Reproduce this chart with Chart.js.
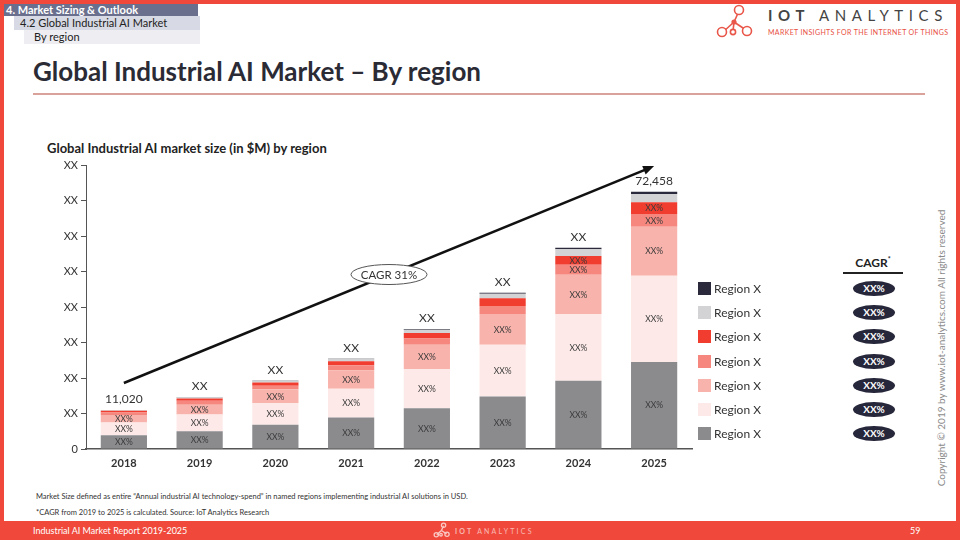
<!DOCTYPE html>
<html>
<head>
<meta charset="utf-8">
<script src="https://cdn.jsdelivr.net/npm/chart.js@4.4.1/dist/chart.umd.min.js"></script>
<style>
  html, body { margin: 0; padding: 0; }
  body { width: 960px; height: 540px; position: relative; overflow: hidden; background: #fff; font-family: Lato, "Open Sans", sans-serif; color: #333; }
  .abs { position: absolute; }
  .frame { left: 0; top: 0; width: 952px; height: 517px; border: 4px solid #f0483a; border-bottom: none; }
  .band { position: absolute; font-size: 11px; line-height: 14px; white-space: nowrap; }
  .b1 { left: 4px; top: 4px; width: 192px; height: 12px; line-height: 12px; background: #6a6f8d; color: #fff; font-weight: bold; padding-left: 2px; }
  .b2 { left: 14px; top: 16px; width: 180px; height: 14px; background: #d7d9e4; color: #222; padding-left: 6px; }
  .b3 { left: 24px; top: 30px; width: 166px; height: 14px; background: #eeeef2; color: #222; padding-left: 10px; }
  .title { left: 33px; top: 55px; font-size: 26px; font-weight: bold; color: #2b2b36; white-space: nowrap; }
  .rule { left: 33px; top: 93px; width: 892px; height: 1.5px; background: #d9a39c; }
  .ctitle { left: 47px; top: 140px; font-size: 13px; font-weight: bold; color: #222; white-space: nowrap; }
  #legend .item { position: absolute; left: 698px; font-size: 12px; color: #333; white-space: nowrap; }
  #legend .sw { position: absolute; left: 0; top: 0; width: 13px; height: 13px; }
  #legend .lb { position: absolute; left: 16px; top: -1px; }
  .cagrh { left: 843px; top: 255px; width: 60px; text-align: center; font-size: 12px; font-weight: bold; color: #222; border-bottom: 2px solid #222; padding-bottom: 2px; }
  .pill { position: absolute; left: 853px; width: 42px; height: 15px; border-radius: 50%; background: #27273b; color: #fff; font-size: 10px; font-weight: bold; text-align: center; line-height: 15px; }
  .copy { left: 941px; top: 348px; font-size: 10px; color: #8a8a8a; white-space: nowrap; transform: translate(-50%, -50%) rotate(-90deg); }
  .note { left: 36px; font-size: 7.5px; color: #333; white-space: nowrap; }
  .footer { left: 0; top: 521px; width: 960px; height: 19px; background: #f0483a; }
  .ftxt { top: 525px; font-size: 9px; color: #fff; white-space: nowrap; }
</style>
</head>
<body>
<div class="abs frame"></div>
<div class="band b1">4. Market Sizing &amp; Outlook</div>
<div class="band b2">4.2 Global Industrial AI Market</div>
<div class="band b3">By region</div>

<svg class="abs" style="left:712px;top:3px" width="42" height="36" viewBox="0 0 42 36">
  <g fill="none" stroke="#e9574a" stroke-width="1.6">
    <line x1="22" y1="19" x2="27" y2="8"/>
    <line x1="22" y1="19" x2="11" y2="29"/>
    <line x1="22" y1="19" x2="21" y2="28"/>
    <line x1="22" y1="19" x2="34" y2="27"/>
    <circle cx="27" cy="7" r="4.5" fill="#fff"/>
    <circle cx="22" cy="19" r="1.8" fill="#e9574a"/>
    <circle cx="10" cy="29" r="4.5" fill="#fff"/>
    <circle cx="21" cy="29" r="2.6" fill="#fff"/>
    <circle cx="35" cy="28" r="4.5" fill="#fff"/>
  </g>
</svg>
<div class="abs" style="left:768px;top:6px;font-size:15px;letter-spacing:5.6px;color:#444;white-space:nowrap"><b>IOT</b>&nbsp;ANALYTICS</div>
<div class="abs" style="left:768px;top:28px;font-size:7px;letter-spacing:0.35px;color:#e8503f;white-space:nowrap">MARKET INSIGHTS FOR THE INTERNET OF THINGS</div>

<div class="abs title">Global Industrial AI Market – By region</div>
<div class="abs rule"></div>
<div class="abs ctitle">Global Industrial AI market size (in $M) by region</div>

<canvas id="chart" class="abs" style="left:40px;top:150px" width="660" height="325"></canvas>

<div id="legend"></div>
<div class="abs cagrh">CAGR<sup style="font-size:7px">*</sup></div>
<div id="cagr"></div>

<div class="abs copy">Copyright © 2019 by www.iot-analytics.com All rights reserved</div>

<div class="abs note" style="top:492px">Market Size defined as entire “Annual industrial AI technology-spend” in named regions implementing industrial AI solutions in USD.</div>
<div class="abs note" style="top:508px">*CAGR from 2019 to 2025 is calculated.  Source: IoT Analytics Research</div>

<div class="abs footer"></div>
<div class="abs ftxt" style="left:33px">Industrial AI Market Report 2019-2025</div>
<svg class="abs" style="left:432px;top:522px;opacity:0.7" width="18" height="16" viewBox="0 0 42 36">
  <g fill="none" stroke="#fff" stroke-width="3">
    <line x1="22" y1="19" x2="27" y2="8"/>
    <line x1="22" y1="19" x2="11" y2="29"/>
    <line x1="22" y1="19" x2="34" y2="27"/>
    <circle cx="27" cy="7" r="5"/>
    <circle cx="10" cy="29" r="5"/>
    <circle cx="21" cy="29" r="3"/>
    <circle cx="35" cy="28" r="5"/>
  </g>
</svg>
<div class="abs ftxt" style="left:455px;opacity:0.6;letter-spacing:2.2px;font-size:7px;top:527px"><b>IOT</b> ANALYTICS</div>
<div class="abs ftxt" style="left:910px">59</div>

<script>
  // categories and values ($M)
  const years = ["2018", "2019", "2020", "2021", "2022", "2023", "2024", "2025"];
  const greyVals      = [3900, 5000, 6800, 8900, 11500, 14800, 19200, 24500];
  const paleVals      = [3560, 4700, 6100, 8100, 11000, 14600, 18800, 24300];
  const pinkVals      = [2100, 2800, 3900, 5200, 6900, 8600, 11100, 13800];
  const salmonVals    = [750, 1100, 1000, 1400, 1700, 2300, 2800, 3600];
  const redVals       = [450, 650, 900, 1100, 1600, 2200, 2500, 3300];
  const lightGreyVals = [200, 300, 400, 600, 900, 1200, 1900, 2300];
  const navyVals      = [60, 80, 100, 150, 200, 300, 400, 658];

  const totalLabels = ["11,020", "XX", "XX", "XX", "XX", "XX", "XX", "72,458"];
  const yTickLabels = ["0", "XX", "XX", "XX", "XX", "XX", "XX", "XX", "XX"];
  const regionNames = ["Region X", "Region X", "Region X", "Region X", "Region X", "Region X", "Region X"];
  const cagrValues = ["XX%", "XX%", "XX%", "XX%", "XX%", "XX%", "XX%"];
  const segmentLabel = "XX%";
  const cagrText = "CAGR 31%";
  // trend arrow, in data units (category index, $M)
  const arrowFrom = [0, 18600];
  const arrowTo = [7, 79700];

  // bottom -> top of each stack
  const series = [greyVals, paleVals, pinkVals, salmonVals, redVals, lightGreyVals, navyVals];
  const colors = ["#8b8b8e", "#fdeae8", "#f8b3ac", "#f5877e", "#f03d30", "#d3d3d5", "#2a2a3c"];

  const overlay = {
    id: "overlay",
    afterDatasetsDraw(chart) {
      const ctx = chart.ctx;
      const xs = chart.scales.x, ys = chart.scales.y;
      ctx.save();
      ctx.textAlign = "center";
      ctx.textBaseline = "middle";

      // XX% inside the segments
      ctx.font = "8.5px Lato, sans-serif";
      ctx.fillStyle = "#3a3a3a";
      chart.data.datasets.forEach(function(ds, di) {
        if (di > 4) return;
        chart.getDatasetMeta(di).data.forEach(function(bar) {
          const h = Math.abs(bar.base - bar.y);
          if (di >= 3 && h < 8.5) return;
          ctx.fillText(segmentLabel, bar.x, (bar.y + bar.base) / 2 + 0.5);
        });
      });

      // totals above the bars
      ctx.font = "12px Lato, sans-serif";
      ctx.fillStyle = "#333";
      years.forEach(function(_, i) {
        const total = series.reduce(function(s, arr) { return s + arr[i]; }, 0);
        ctx.fillText(totalLabels[i], xs.getPixelForValue(i), ys.getPixelForValue(total) - 11);
      });

      // CAGR arrow
      const x1 = xs.getPixelForValue(arrowFrom[0]), y1 = ys.getPixelForValue(arrowFrom[1]);
      const x2 = xs.getPixelForValue(arrowTo[0]), y2 = ys.getPixelForValue(arrowTo[1]);
      const ang = Math.atan2(y2 - y1, x2 - x1);
      ctx.strokeStyle = "#111";
      ctx.fillStyle = "#111";
      ctx.lineWidth = 2.5;
      ctx.beginPath();
      ctx.moveTo(x1, y1);
      ctx.lineTo(x2 - 8 * Math.cos(ang), y2 - 8 * Math.sin(ang));
      ctx.stroke();
      ctx.beginPath();
      ctx.moveTo(x2, y2);
      ctx.lineTo(x2 - 11 * Math.cos(ang) + 4.5 * Math.sin(ang), y2 - 11 * Math.sin(ang) - 4.5 * Math.cos(ang));
      ctx.lineTo(x2 - 11 * Math.cos(ang) - 4.5 * Math.sin(ang), y2 - 11 * Math.sin(ang) + 4.5 * Math.cos(ang));
      ctx.closePath();
      ctx.fill();

      // CAGR badge in the middle of the arrow
      const mx = (x1 + x2) / 2, my = (y1 + y2) / 2;
      ctx.beginPath();
      ctx.ellipse(mx, my, 38, 10, 0, 0, Math.PI * 2);
      ctx.fillStyle = "#fff";
      ctx.fill();
      ctx.lineWidth = 1;
      ctx.strokeStyle = "#555";
      ctx.stroke();
      ctx.font = "11.5px Lato, sans-serif";
      ctx.fillStyle = "#333";
      ctx.fillText(cagrText, mx, my + 0.5);
      ctx.restore();
    }
  };

  new Chart(document.getElementById("chart"), {
    type: "bar",
    data: {
      labels: years,
      datasets: series.map(function(vals, i) {
        return {
          label: regionNames[i],
          data: vals,
          backgroundColor: colors[i],
          borderWidth: 0,
          barPercentage: 0.61,
          categoryPercentage: 1
        };
      })
    },
    options: {
      responsive: false, devicePixelRatio: 1, animation: false,
      layout: { padding: { top: 15, right: 8, left: 0, bottom: 0 } },
      plugins: { legend: { display: false }, tooltip: { enabled: false } },
      scales: {
        x: {
          stacked: true,
          grid: { display: true, drawOnChartArea: false, drawTicks: false },
          border: { color: "#555", width: 1.5 },
          ticks: { color: "#333", font: { family: "Lato", size: 11, weight: "bold" }, padding: 8 },
          afterFit: function(s) { s.height = 26; }
        },
        y: {
          stacked: true, min: 0, max: 80000,
          grid: { display: true, drawOnChartArea: false, drawTicks: true, tickLength: 5, color: "#555" },
          border: { color: "#555", width: 1 },
          ticks: {
            stepSize: 10000, color: "#333", padding: 3,
            font: { family: "Lato", size: 11 },
            callback: function(v, i) { return yTickLabels[i]; }
          },
          afterFit: function(s) { s.width = 46; }
        }
      }
    },
    plugins: [overlay]
  });

  // legend (top row = top of the stack) and CAGR pills
  const legend = document.getElementById("legend");
  const cagr = document.getElementById("cagr");
  for (let r = 0; r < regionNames.length; r++) {
    const si = series.length - 1 - r;
    const top = 282 + r * 24.2;
    legend.insertAdjacentHTML("beforeend",
      '<div class="item" style="top:' + top + 'px"><span class="sw" style="background:' + colors[si] + '"></span><span class="lb">' + regionNames[si] + '</span></div>');
    cagr.insertAdjacentHTML("beforeend",
      '<div class="pill" style="top:' + (top - 1) + 'px">' + cagrValues[r] + '</div>');
  }
</script>
</body>
</html>
